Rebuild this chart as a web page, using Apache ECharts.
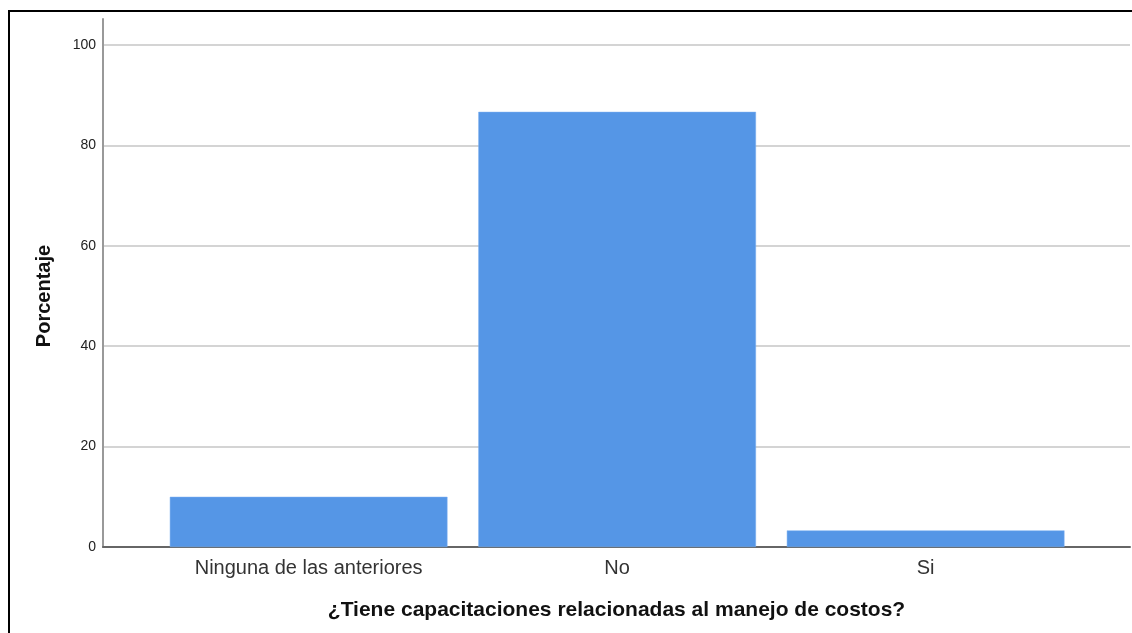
<!DOCTYPE html>
<html>
<head>
<meta charset="utf-8">
<script src="https://cdn.jsdelivr.net/npm/echarts@6/dist/echarts.min.js"></script>
<style>
  html, body { margin: 0; padding: 0; background: #fff; }
  #frame {
    position: absolute; left: 8px; top: 10px; width: 1124px; height: 623px;
    border-top: 2px solid #000; border-left: 2px solid #000;
  }
  #chart { position: absolute; left: 0; top: 0; width: 1132px; height: 633px; }
</style>
</head>
<body>
<div id="frame"></div>
<div id="chart"></div>
<script>
const categories = ['Ninguna de las anteriores', 'No', 'Si'];
const percentages = [10.0, 86.7, 3.3];
const yTicks = { min: 0, max: 105.2, interval: 20 };

const xTitle = '¿Tiene capacitaciones relacionadas al manejo de costos?';
const yTitle = 'Porcentaje';

const chart = echarts.init(document.getElementById('chart'));

chart.setOption({
  animation: false,
  textStyle: { fontFamily: 'Liberation Sans, Arial, sans-serif' },
  grid: [
    // outer frame: axis lines, gridlines and titles
    { left: 103, right: 2, top: 19, bottom: 86 },
    // inner band where the bars sit
    { left: 154.4, right: 52.1, top: 19, bottom: 86 }
  ],
  xAxis: [
    {
      gridIndex: 0,
      type: 'value',
      min: 0, max: 1,
      axisLine: { show: true, lineStyle: { color: '#666', width: 2 } },
      axisTick: { show: false },
      axisLabel: { show: false },
      splitLine: { show: false },
      name: xTitle,
      nameLocation: 'middle',
      nameGap: 53,
      nameTextStyle: { fontSize: 21, fontWeight: 'bold', color: '#111' }
    },
    {
      gridIndex: 1,
      type: 'category',
      data: categories,
      axisLine: { show: false },
      axisTick: { show: false },
      axisLabel: { fontSize: 20, color: '#333', margin: 11 }
    }
  ],
  yAxis: [
    {
      gridIndex: 0,
      type: 'value',
      min: yTicks.min, max: yTicks.max, interval: yTicks.interval,
      axisLine: { show: true, lineStyle: { color: '#999', width: 2 } },
      axisTick: { show: false },
      axisLabel: { fontSize: 14, color: '#222', margin: 7, showMaxLabel: false },
      splitLine: { show: true, showMaxLine: false, lineStyle: { color: '#d4d4d4', width: 2 } },
      name: yTitle,
      nameLocation: 'middle',
      nameGap: 49,
      nameTextStyle: { fontSize: 20, fontWeight: 'bold', color: '#111', padding: [0, 26, 0, 0] }
    },
    {
      gridIndex: 1,
      type: 'value',
      min: yTicks.min, max: yTicks.max,
      show: false
    }
  ],
  series: [{
    type: 'bar',
    xAxisIndex: 1,
    yAxisIndex: 1,
    data: percentages,
    barWidth: '90%',
    itemStyle: { color: '#5596e6', borderColor: '#7aaef0', borderWidth: 0.5 }
  }]
});
</script>
</body>
</html>
